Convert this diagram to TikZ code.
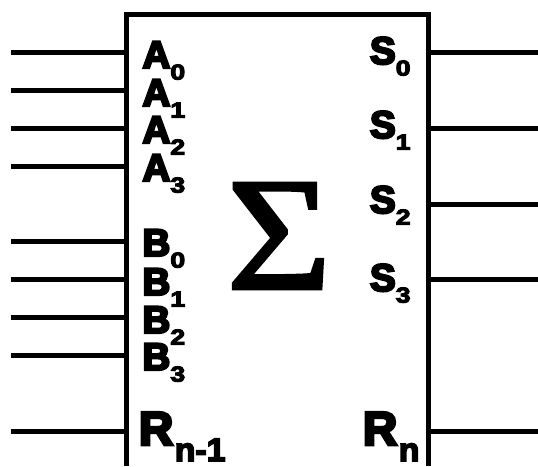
\documentclass[tikz,border=0pt]{standalone}
\usepackage{graphicx}
\usepackage{fontspec}
\newfontfamily\lblfont[UprightFont=* Bold,FakeBold=6]{Liberation Sans}
\newfontfamily\subfont[UprightFont=* Bold,FakeBold=5,FakeStretch=1.25]{Liberation Sans}
\newfontfamily\rsubfont[UprightFont=* Bold,FakeBold=5,FakeStretch=1.04]{Liberation Sans}
\newfontfamily\sigfont[FakeBold=1.8]{Liberation Serif}
\newcommand{\lab}[2]{{\fontsize{38.5}{38.5}\selectfont\lblfont #1\raisebox{-11.5pt}{\fontsize{21.5}{21.5}\selectfont\subfont #2}}}
\newcommand{\labr}[3]{{\fontsize{47.5}{47.5}\selectfont\lblfont R\raisebox{-16pt}{\hspace{#3}\fontsize{#2}{#2}\selectfont\rsubfont #1}}}
\tikzset{
  wire/.style={line width=5.3pt,black},
  boxedge/.style={line width=5pt,black,line cap=butt,line join=miter},
  lbl/.style={anchor=base west,inner sep=0pt,outer sep=0pt},
}
\begin{document}
\begin{tikzpicture}[x=1pt,y=-1pt]
\useasboundingbox (0,0) rectangle (538,466);
% box, open at the bottom of the picture
\coordinate (bl) at (126.8,466);
\coordinate (tl) at (126.8,14.8);
\coordinate (tr) at (428.8,14.8);
\coordinate (br) at (428.8,466);
\draw[boxedge] (bl) -- (tl) -- (tr) -- (br);
% pins on the box
\foreach \n/\y in {a0/52.6,a1/90.6,a2/128.6,a3/166.6,b0/241.6,b1/279.6,b2/317.6,b3/355.6,r0/431.6}{
  \coordinate (\n in) at (126.8,\y);
  \coordinate (\n end) at (11,\y);
  \draw[wire] (\n end) -- (\n in);
}
\foreach \n/\y in {s0/52.6,s1/128.6,s2/204.6,s3/279.6,r1/431.6}{
  \coordinate (\n in) at (428.8,\y);
  \coordinate (\n end) at (538,\y);
  \draw[wire] (\n in) -- (\n end);
}
% labels
\node[lbl] (A0) at (142.5,68) {\lab{A}{0}};
\node[lbl] (A1) at (142.5,106) {\lab{A}{1}};
\node[lbl] (A2) at (142.5,143) {\lab{A}{2}};
\node[lbl] (A3) at (142.5,181) {\lab{A}{3}};
\node[lbl] (B0) at (142.5,256) {\lab{B}{0}};
\node[lbl] (B1) at (142.5,295) {\lab{B}{1}};
\node[lbl] (B2) at (142.5,333) {\lab{B}{2}};
\node[lbl] (B3) at (142.5,370) {\lab{B}{3}};
\node[lbl] (S0) at (370,64) {\lab{S}{0}};
\node[lbl] (S1) at (370,138) {\lab{S}{1}};
\node[lbl] (S2) at (370,213) {\lab{S}{2}};
\node[lbl] (S3) at (370,291) {\lab{S}{3}};
\node[lbl] (Rm) at (139,445) {\labr{n-1}{32.5}{1.5pt}};
\node[lbl] (Rn) at (363,445) {\labr{n}{32.5}{1.5pt}};
\node[inner sep=0pt] (sum) at (279,236) {\resizebox*{105pt}{106pt}{\sigfont Σ}};
\end{tikzpicture}
\end{document}
